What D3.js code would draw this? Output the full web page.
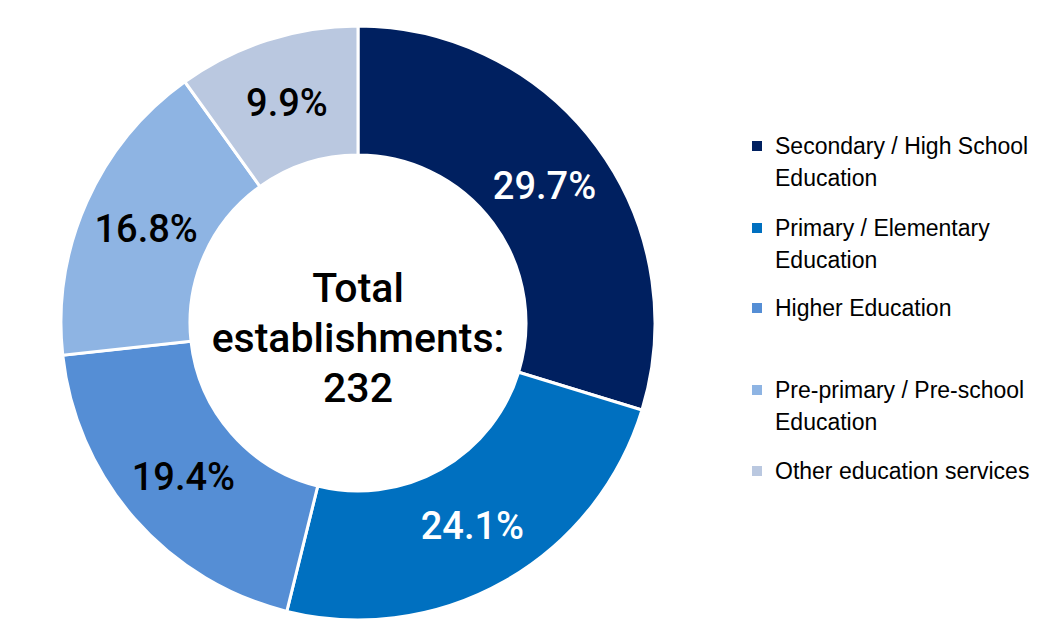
<!DOCTYPE html>
<html>
<head>
<meta charset="utf-8">
<script src="https://cdn.jsdelivr.net/npm/d3@7"></script>
<style>
  body { margin: 0; background: #fff; }
</style>
</head>
<body>
<div id="chart"></div>
<script>
// slice data, clockwise from 12 o'clock
var categories = [
    "Secondary / High School Education",
    "Primary / Elementary Education",
    "Higher Education",
    "Pre-primary / Pre-school Education",
    "Other education services"
];
var legendLines = [
    ["Secondary / High School", "Education"],
    ["Primary / Elementary", "Education"],
    ["Higher Education"],
    ["Pre-primary / Pre-school", "Education"],
    ["Other education services"]
];
var shares = [29.7, 24.1, 19.4, 16.8, 9.9];
var colors = ["#002060", "#0070C0", "#558ED5", "#8EB4E3", "#BAC8E0"];
var labelColors = ["#fff", "#fff", "#000", "#000", "#000"];
var centerLines = ["Total", "establishments:", "232"];

var width = 1053, height = 628;
var cx = 358, cy = 323;
var outerR = 297, innerR = 168;

const svg = d3.select("#chart").append("svg")
    .attr("width", width)
    .attr("height", height)
    .attr("viewBox", [0, 0, width, height]);

var pie = d3.pie().sort(null).value(d => d)(shares);

var arc = d3.arc().innerRadius(innerR).outerRadius(outerR);
var labelArc = d3.arc().innerRadius(232).outerRadius(232);

const g = svg.append("g").attr("transform", `translate(${cx},${cy})`);

g.selectAll("path")
    .data(pie)
    .join("path")
    .attr("d", arc)
    .attr("fill", (d, i) => colors[i])
    .attr("stroke", "#fff")
    .attr("stroke-width", 3);

g.selectAll("text.lbl")
    .data(pie)
    .join("text")
    .attr("class", "lbl")
    .attr("transform", d => `translate(${labelArc.centroid(d)})`)
    .attr("text-anchor", "middle")
    .attr("dy", "0.37em")
    .attr("fill", (d, i) => labelColors[i])
    .style("font", "500 38px Roboto, sans-serif")
    .text(d => d.data.toFixed(1) + "%");

// centre text, baselines
g.append("g")
    .selectAll("text")
    .data(centerLines)
    .join("text")
    .attr("text-anchor", "middle")
    .attr("y", (d, i) => -21 + i * 50)
    .attr("fill", "#000")
    .style("font", "500 41px Roboto, sans-serif")
    .text(d => d);

// legend
var legendTops = [146, 228, 308, 390, 471];

const leg = svg.append("g").selectAll("g")
    .data(categories)
    .join("g")
    .attr("transform", (d, i) => `translate(752,${legendTops[i]})`);

leg.append("rect")
    .attr("x", 0).attr("y", -5)
    .attr("width", 10).attr("height", 10)
    .attr("fill", (d, i) => colors[i]);

leg.append("text")
    .style("font", "23px 'Liberation Sans', Arial, sans-serif")
    .attr("fill", "#000")
    .selectAll("tspan")
    .data((d, i) => legendLines[i])
    .join("tspan")
    .attr("x", 23)
    .attr("y", (d, i) => i * 32)
    .attr("dy", "0.36em")
    .text(d => d);
</script>
</body>
</html>
